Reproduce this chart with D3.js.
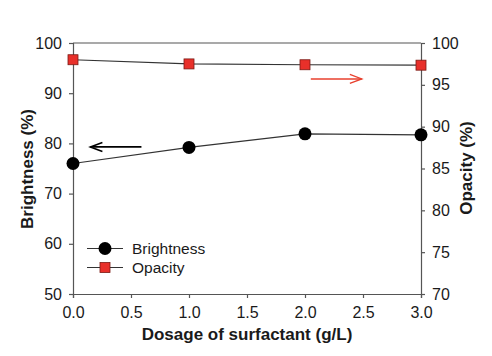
<!DOCTYPE html>
<html><head><meta charset="utf-8">
<script src="https://cdn.jsdelivr.net/npm/d3@7/dist/d3.min.js"></script>
<style>body{margin:0;background:#fff}svg{display:block}text{font-family:Arial,"Liberation Sans",sans-serif;fill:#1a1a1a}</style>
</head><body><svg id="c" width="492" height="356"></svg>
<script>
const dosage = [0, 1, 2, 3];
const brightness = [76.0, 79.2, 81.9, 81.7];
const opacity = [98.0, 97.5, 97.4, 97.35];
const xTicks = [0, 0.5, 1, 1.5, 2, 2.5, 3];
const leftTicks = [50, 60, 70, 80, 90, 100];
const rightTicks = [70, 75, 80, 85, 90, 95, 100];

const svg = d3.select("#c");
const L = 73, R = 421, T = 43, B = 294;
const x = d3.scaleLinear().domain([0, 3]).range([L, R]);
const yL = d3.scaleLinear().domain([50, 100]).range([B, T]);
const yR = d3.scaleLinear().domain([70, 100]).range([B, T]);
const axisColor = "#555";

function style(g){
  g.select(".domain").attr("stroke", axisColor).attr("stroke-width", 1.2);
  g.selectAll(".tick line").attr("stroke", axisColor).attr("stroke-width", 1.2);
  g.selectAll(".tick text").style("font-size", "16px").attr("fill", "#1a1a1a");
}
svg.append("g").attr("transform", `translate(0,${B})`)
  .call(d3.axisBottom(x).tickValues(xTicks).tickFormat(d3.format(".1f")).tickSizeOuter(0).tickSize(4).tickPadding(9))
  .call(style);
svg.append("g").attr("transform", `translate(${L},0)`)
  .call(d3.axisLeft(yL).tickValues(leftTicks).tickFormat(d3.format("d")).tickSizeOuter(0).tickSize(4).tickPadding(7))
  .call(style);
svg.append("g").attr("transform", `translate(${R},0)`)
  .call(d3.axisRight(yR).tickValues(rightTicks).tickFormat(d3.format("d")).tickSizeOuter(0).tickSize(4).tickPadding(7))
  .call(style);
svg.append("line").attr("x1", L).attr("x2", R).attr("y1", T).attr("y2", T)
  .attr("stroke", axisColor).attr("stroke-width", 1.2);

// lines
const lineB = d3.line().x((d, i) => x(dosage[i])).y(d => yL(d));
const lineO = d3.line().x((d, i) => x(dosage[i])).y(d => yR(d));
svg.append("path").attr("d", lineB(brightness)).attr("fill", "none").attr("stroke", "#333").attr("stroke-width", 1.1);
svg.append("path").attr("d", lineO(opacity)).attr("fill", "none").attr("stroke", "#333").attr("stroke-width", 1.1);

svg.selectAll("circle.b").data(brightness).enter().append("circle")
  .attr("cx", (d, i) => x(dosage[i])).attr("cy", d => yL(d)).attr("r", 6.5).attr("fill", "#000");
svg.selectAll("rect.o").data(opacity).enter().append("rect")
  .attr("x", (d, i) => x(dosage[i]) - 5).attr("y", d => yR(d) - 5)
  .attr("width", 10).attr("height", 10).attr("fill", "#e8302a").attr("stroke", "#7a1a14").attr("stroke-width", 0.8);

// arrows
function arrow(x1, x2, y, color, w){
  const dir = Math.sign(x2 - x1);
  svg.append("line").attr("x1", x1).attr("x2", x2).attr("y1", y).attr("y2", y).attr("stroke", color).attr("stroke-width", w);
  svg.append("path").attr("d", `M${x2 - dir*12},${y-4.5} L${x2},${y} L${x2 - dir*12},${y+4.5}`)
    .attr("fill", "none").attr("stroke", color).attr("stroke-width", w);
}
arrow(x(0.59), x(0.15), yL(79.3), "#000", 1.6);
arrow(x(2.05), x(2.49), yR(95.7), "#e8402e", 1.3);

// legend
const lg = svg.append("g");
[["Brightness", "c", 248.5], ["Opacity", "s", 267.5]].forEach(([name, m, yy]) => {
  lg.append("line").attr("x1", 87).attr("x2", 123).attr("y1", yy).attr("y2", yy).attr("stroke", "#333").attr("stroke-width", 1.1);
  if (m === "c") lg.append("circle").attr("cx", 105).attr("cy", yy).attr("r", 6.5).attr("fill", "#000");
  else lg.append("rect").attr("x", 100).attr("y", yy - 5).attr("width", 10).attr("height", 10).attr("fill", "#e8302a").attr("stroke", "#7a1a14").attr("stroke-width", 0.8);
  lg.append("text").attr("x", 132).attr("y", yy + 5.5).style("font-size", "15.5px").text(name);
});

// titles
svg.append("text").attr("x", (L + R) / 2).attr("y", 340).attr("text-anchor", "middle")
  .style("font-size", "17px").style("font-weight", "bold").text("Dosage of surfactant (g/L)");
svg.append("text").attr("transform", `translate(33,169) rotate(-90)`).attr("text-anchor", "middle")
  .style("font-size", "17px").style("font-weight", "bold").text("Brightness (%)");
svg.append("text").attr("transform", `translate(472,168) rotate(-90)`).attr("text-anchor", "middle")
  .style("font-size", "17px").style("font-weight", "bold").text("Opacity (%)");
</script></body></html>
